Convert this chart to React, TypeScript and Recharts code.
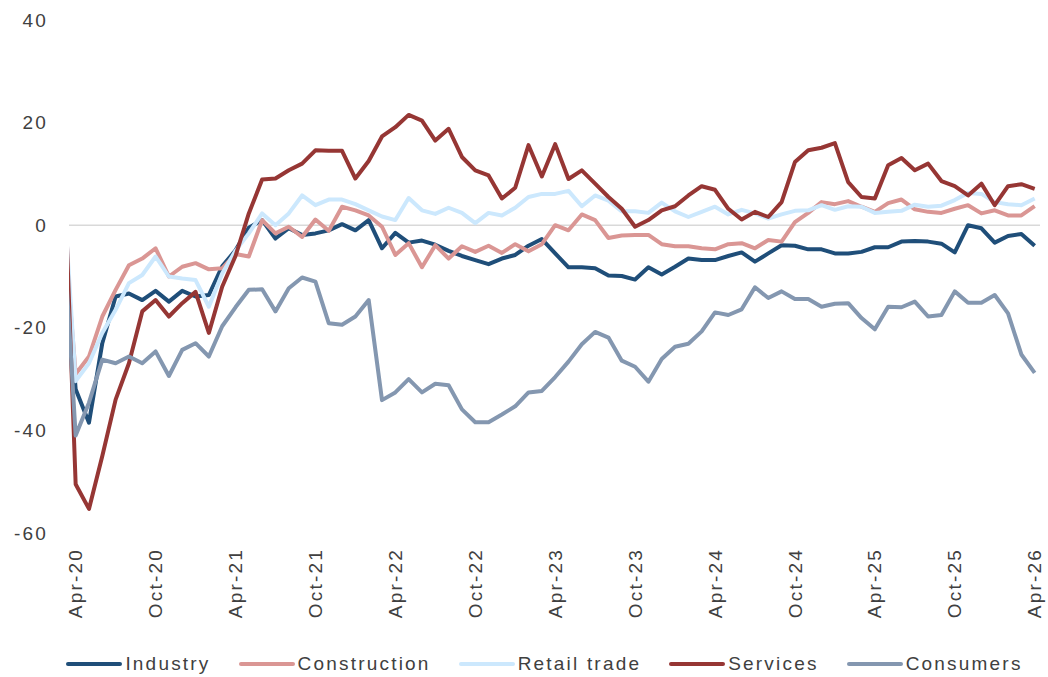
import React from 'react';
import { LineChart, Line, XAxis, YAxis, ReferenceLine, Legend } from 'recharts';

const FONT = "'Liberation Sans', Arial, sans-serif";
const TEXT = '#404040';

// Monthly survey balances, Mar-20 .. Apr-26 (Mar-20 sits just outside the plot and is clipped)
const MONTH_ABBR = ['Jan', 'Feb', 'Mar', 'Apr', 'May', 'Jun', 'Jul', 'Aug', 'Sep', 'Oct', 'Nov', 'Dec'];
const months = Array.from({ length: 74 }, (_, k) => {
  const m = 2 + k;
  return `${MONTH_ABBR[m % 12]}-${20 + Math.floor(m / 12)}`;
});

const tickLabels = ['Apr-20', 'Oct-20', 'Apr-21', 'Oct-21', 'Apr-22', 'Oct-22', 'Apr-23', 'Oct-23', 'Apr-24', 'Oct-24', 'Apr-25', 'Oct-25', 'Apr-26'];
const yTicks = [-60, -40, -20, 0, 20, 40];

const industry = [
  2, -32, -38.5, -23, -13.9, -13.3, -14.6, -12.8, -14.9, -12.8, -13.9, -13.6, -8,
  -4.9, -0.5, 1, -2.6, -0.6, -1.9, -1.6, -1, 0.2, -1, 1, -4.5,
  -1.5, -3.4, -3, -3.8, -5, -6, -6.8, -7.6, -6.5, -5.8, -4, -2.7,
  -5.5, -8.2, -8.2, -8.4, -9.8, -9.9, -10.6, -8.2, -9.6, -8.1, -6.5, -6.8,
  -6.8, -6, -5.3, -7.1, -5.5, -3.9, -4, -4.7, -4.7, -5.5, -5.5, -5.2,
  -4.3, -4.3, -3.2, -3.1, -3.2, -3.6, -5.3, 0, -0.6, -3.4, -2.1, -1.7,
  -4,
];

const construction = [
  3.4, -29, -25.6, -17.8, -12.6, -7.8, -6.5, -4.5, -10, -8.1, -7.4, -8.6, -8.4,
  -5.6, -6.1, 1, -1.6, -0.3, -2.3, 1.1, -1.1, 3.6, 2.9, 1.9, -0.3,
  -5.8, -3.5, -8.2, -3.9, -6.5, -4.1, -5.2, -4, -5.4, -3.7, -5.1, -3.7,
  0, -1, 2.1, 1, -2.5, -2, -1.9, -1.9, -3.7, -4.1, -4.1, -4.5,
  -4.7, -3.7, -3.5, -4.5, -2.9, -3.2, 0.6, 2.4, 4.5, 4.1, 4.7, 3.6,
  2.6, 4.3, 5, 3.1, 2.6, 2.4, 3.2, 3.9, 2.3, 2.9, 1.9, 1.9,
  3.7,
];

const retail = [
  10.4, -30.4, -26.9, -21, -16.5, -11.3, -9.7, -6.1, -10, -10.4, -10.7, -15.9, -9.4,
  -5, -1.6, 2.3, 0, 2.3, 5.8, 3.9, 5, 5, 4.1, 2.9, 1.7,
  1, 5.3, 2.9, 2.2, 3.4, 2.4, 0.4, 2.4, 1.9, 3.4, 5.5, 6.1,
  6.1, 6.7, 3.7, 5.8, 4.8, 2.7, 2.7, 2.4, 4.4, 2.7, 1.6, 2.6,
  3.6, 2.1, 3, 2.3, 1.3, 2.1, 2.8, 2.9, 3.9, 3, 3.7, 3.6,
  2.4, 2.6, 2.8, 4, 3.6, 3.8, 4.9, 6.3, 6.1, 4.5, 4.1, 3.9,
  5.2,
];

const services = [
  20.9, -50.5, -55.3, -45, -34, -26.9, -16.8, -14.6, -17.8, -15.2, -13, -21, -12,
  -6, 2.3, 8.9, 9.1, 10.7, 12, 14.6, 14.5, 14.5, 9.1, 12.5, 17.3,
  19.1, 21.5, 20.4, 16.5, 18.8, 13.3, 10.7, 9.7, 5.2, 7.3, 15.6, 9.5,
  15.8, 9, 10.7, 8.1, 5.5, 3.2, -0.3, 1, 2.9, 3.7, 5.8, 7.6,
  6.9, 3.2, 1.1, 2.6, 1.6, 4.5, 12.3, 14.6, 15.1, 16, 8.4, 5.5,
  5.2, 11.7, 13.1, 10.7, 12, 8.6, 7.6, 5.8, 8.1, 3.9, 7.6, 8,
  7.1,
];

const consumers = [
  2.8, -41, -34.6, -26.2, -26.9, -25.6, -26.9, -24.6, -29.4, -24.3, -23, -25.6, -19.7,
  -16, -12.6, -12.5, -16.8, -12.3, -10.2, -11, -19.1, -19.4, -17.8, -14.6, -34.1,
  -32.6, -30, -32.6, -30.9, -31.2, -35.9, -38.4, -38.4, -36.9, -35.3, -32.6, -32.3,
  -29.6, -26.6, -23.2, -20.8, -21.9, -26.4, -27.6, -30.5, -26.1, -23.7, -23.1, -20.7,
  -17, -17.5, -16.4, -12.1, -14.2, -12.9, -14.4, -14.4, -15.9, -15.3, -15.2, -18.1,
  -20.3, -15.9, -16, -14.9, -17.8, -17.5, -12.9, -15.1, -15.1, -13.6, -17.2, -25.2,
  -28.8,
];

const series = [
  { key: 'industry', name: 'Industry', color: '#1F4E79' },
  { key: 'construction', name: 'Construction', color: '#DA9694' },
  { key: 'retail', name: 'Retail trade', color: '#CCE8FD' },
  { key: 'services', name: 'Services', color: '#963634' },
  { key: 'consumers', name: 'Consumers', color: '#8497B0' },
];

const data = months.map((month, k) => ({
  idx: k - 1,
  month,
  industry: industry[k],
  construction: construction[k],
  retail: retail[k],
  services: services[k],
  consumers: consumers[k],
}));

const xTicks = tickLabels.map((l) => months.indexOf(l) - 1);
const labelFor = (idx: number) => months[idx + 1];

const XTick = ({ x, y, payload }: any) => (
  <text
    x={x}
    y={y}
    transform={`rotate(-90, ${x}, ${y})`}
    textAnchor="end"
    dy="0.35em"
    fill={TEXT}
    fontSize={19}
    fontFamily={FONT}
    style={{ letterSpacing: '2.2px' }}
  >
    {labelFor(payload.value)}
  </text>
);

const YTick = ({ x, y, payload }: any) => (
  <text
    x={x}
    y={y}
    textAnchor="end"
    dy="0.35em"
    fill={TEXT}
    fontSize={19}
    fontFamily={FONT}
    style={{ letterSpacing: '2.2px' }}
  >
    {payload.value}
  </text>
);

function LegendContent() {
  return (
    <div
      style={{
        height: 44,
        boxSizing: 'border-box',
        paddingTop: 18,
        paddingLeft: 49,
        display: 'flex',
        justifyContent: 'center',
        alignItems: 'center',
        fontFamily: FONT,
        fontSize: 19,
        letterSpacing: '2.2px',
        color: TEXT,
      }}
    >
      {series.map((s, i) => (
        <div
          key={s.key}
          style={{ display: 'flex', alignItems: 'center', marginLeft: i === 0 ? 0 : 28 }}
        >
          <svg width={56} height={8} style={{ marginRight: 3 }}>
            <line x1={2} y1={4} x2={54} y2={4} stroke={s.color} strokeWidth={4} strokeLinecap="round" />
          </svg>
          <span style={{ lineHeight: '26px' }}>{s.name}</span>
        </div>
      ))}
    </div>
  );
}

export default function App() {
  return (
    <div style={{ position: 'absolute', left: 0, top: 0, background: '#fff' }}>
      <LineChart width={1048} height={677} data={data} margin={{ top: 20, right: 8, left: 0, bottom: 0 }}>
        <XAxis
          dataKey="idx"
          type="number"
          domain={[-0.5, 72.4]}
          allowDataOverflow
          ticks={xTicks}
          interval={0}
          height={100}
          axisLine={false}
          tickLine={false}
          tickSize={0}
          tickMargin={15}
          tick={<XTick />}
        />
        <YAxis
          type="number"
          domain={[-60, 40]}
          ticks={yTicks}
          interval={0}
          width={69}
          axisLine={false}
          tickLine={false}
          tickSize={0}
          tickMargin={21}
          tick={<YTick />}
        />
        <ReferenceLine y={0} stroke="#D9D9D9" strokeWidth={1.5} />
        <Legend verticalAlign="bottom" content={<LegendContent />} wrapperStyle={{ height: 44 }} />
        {series.map((s) => (
          <Line
            key={s.key}
            type="linear"
            dataKey={s.key}
            name={s.name}
            stroke={s.color}
            strokeWidth={4}
            strokeLinejoin="round"
            dot={false}
            activeDot={false}
            isAnimationActive={false}
          />
        ))}
      </LineChart>
    </div>
  );
}
